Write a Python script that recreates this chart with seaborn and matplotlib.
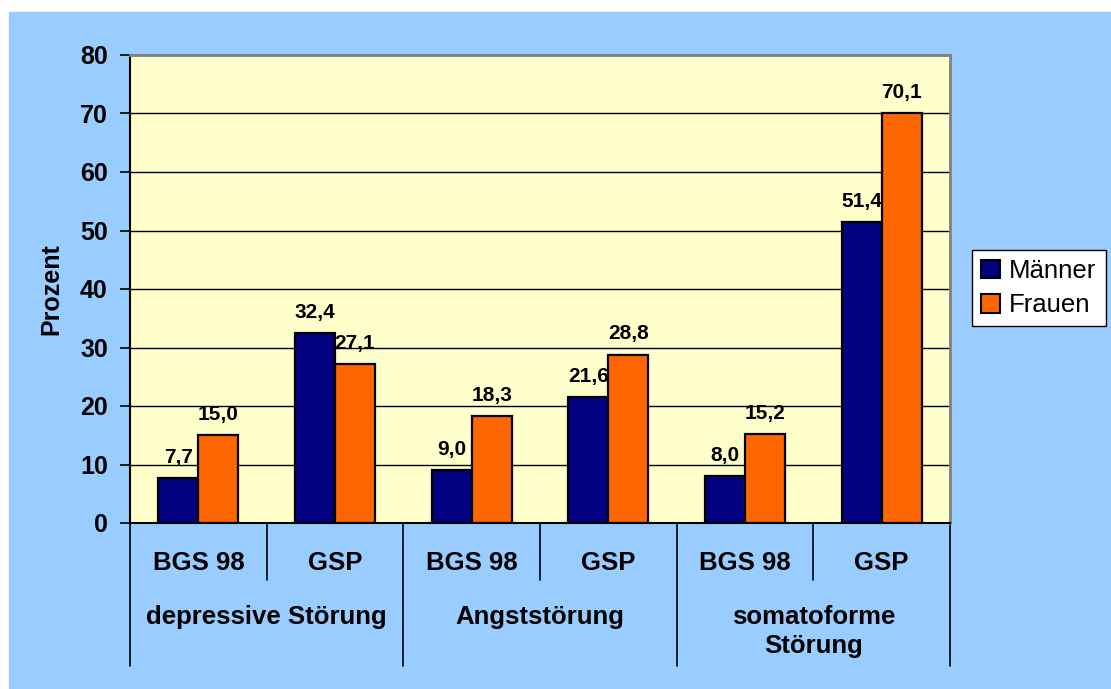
import pandas as pd
import matplotlib.pyplot as plt
import seaborn as sns
from matplotlib.patches import Rectangle, Patch
from matplotlib.transforms import blended_transform_factory

groups = ['depressive Störung', 'Angststörung', 'somatoforme\nStörung']
studies = ['BGS 98', 'GSP']
series = ['Männer', 'Frauen']
maenner = [7.7, 32.4, 9.0, 21.6, 8.0, 51.4]
frauen = [15.0, 27.1, 18.3, 28.8, 15.2, 70.1]
colors = ['#000080', '#FF6600']

sns.set_style('white')
plt.rcParams['font.family'] = ['Liberation Sans', 'DejaVu Sans']
plt.rcParams.update({'text.color': 'black', 'axes.labelcolor': 'black',
                     'xtick.color': 'black', 'ytick.color': 'black'})

cats = [f'{g}|{s}' for g in groups for s in studies]
df = pd.DataFrame({
    'cat': cats * 2,
    'sex': [series[0]] * 6 + [series[1]] * 6,
    'val': maenner + frauen,
})

fig = plt.figure(figsize=(11.11, 6.89), dpi=100, facecolor='white')
fig.patches.append(Rectangle((9 / 1111, 0), 1, (689 - 12) / 689,
                             transform=fig.transFigure, color='#99CCFF', zorder=-10))
ax = fig.add_axes([130 / 1111, 1 - 523 / 689, 820 / 1111, 468 / 689])
ax.set_facecolor('#FFFFCC')

sns.barplot(data=df, x='cat', y='val', hue='sex', order=cats, hue_order=series,
            palette=colors, saturation=1, width=0.585, edgecolor='black',
            linewidth=1.6, legend=False, ax=ax, zorder=3)

for cont in ax.containers:
    ax.bar_label(cont, labels=[f'{v:.1f}'.replace('.', ',') for v in cont.datavalues],
                 padding=8, fontsize=15, fontweight='bold', color='black', zorder=4)

ax.set_ylim(0, 80)
ax.set_xlim(-0.5, 5.5)
ax.set_yticks(range(0, 81, 10))
ax.yaxis.grid(True, color='black', linewidth=1)
ax.set_axisbelow(True)
ax.tick_params(axis='y', left=True, length=7, width=1.2, pad=9, labelsize=18)
for lab in ax.get_yticklabels():
    lab.set_fontweight('bold')

ax.set_xticks(range(6))
ax.set_xticklabels(studies * 3, fontsize=18.5, fontweight='bold')
ax.tick_params(axis='x', bottom=False, pad=17)
ax.set_xlabel('')
ax.set_ylabel('Prozent', fontsize=18, fontweight='bold', labelpad=12)

for side in ['top', 'right']:
    ax.spines[side].set_color('#808080')
    ax.spines[side].set_linewidth(2)
for side in ['left', 'bottom']:
    ax.spines[side].set_color('black')
    ax.spines[side].set_linewidth(1.5)

trans = blended_transform_factory(ax.transData, ax.transAxes)
for i in range(7):
    x = i - 0.5
    y_end = -0.3056 if i % 2 == 0 else -0.122
    ax.plot([x, x], [0, y_end], color='black', linewidth=1.2,
            transform=trans, clip_on=False)

for i, g in enumerate(groups):
    ax.text(2 * i + 0.5, -0.176, g, transform=trans, ha='center', va='top',
            fontsize=18.5, fontweight='bold', linespacing=1.25, multialignment='center')

handles = [Patch(facecolor=c, edgecolor='black', linewidth=1.5) for c in colors]
fig.legend(handles, series, loc='upper left', bbox_to_anchor=(972 / 1111, 1 - 250 / 689),
           fontsize=18.5, frameon=True, fancybox=False, edgecolor='black',
           framealpha=1, handlelength=0.75, handleheight=0.75, handletextpad=0.35,
           labelspacing=0.4, borderpad=0.35, borderaxespad=0)

fig.savefig('out.png', dpi=100, facecolor=fig.get_facecolor())
